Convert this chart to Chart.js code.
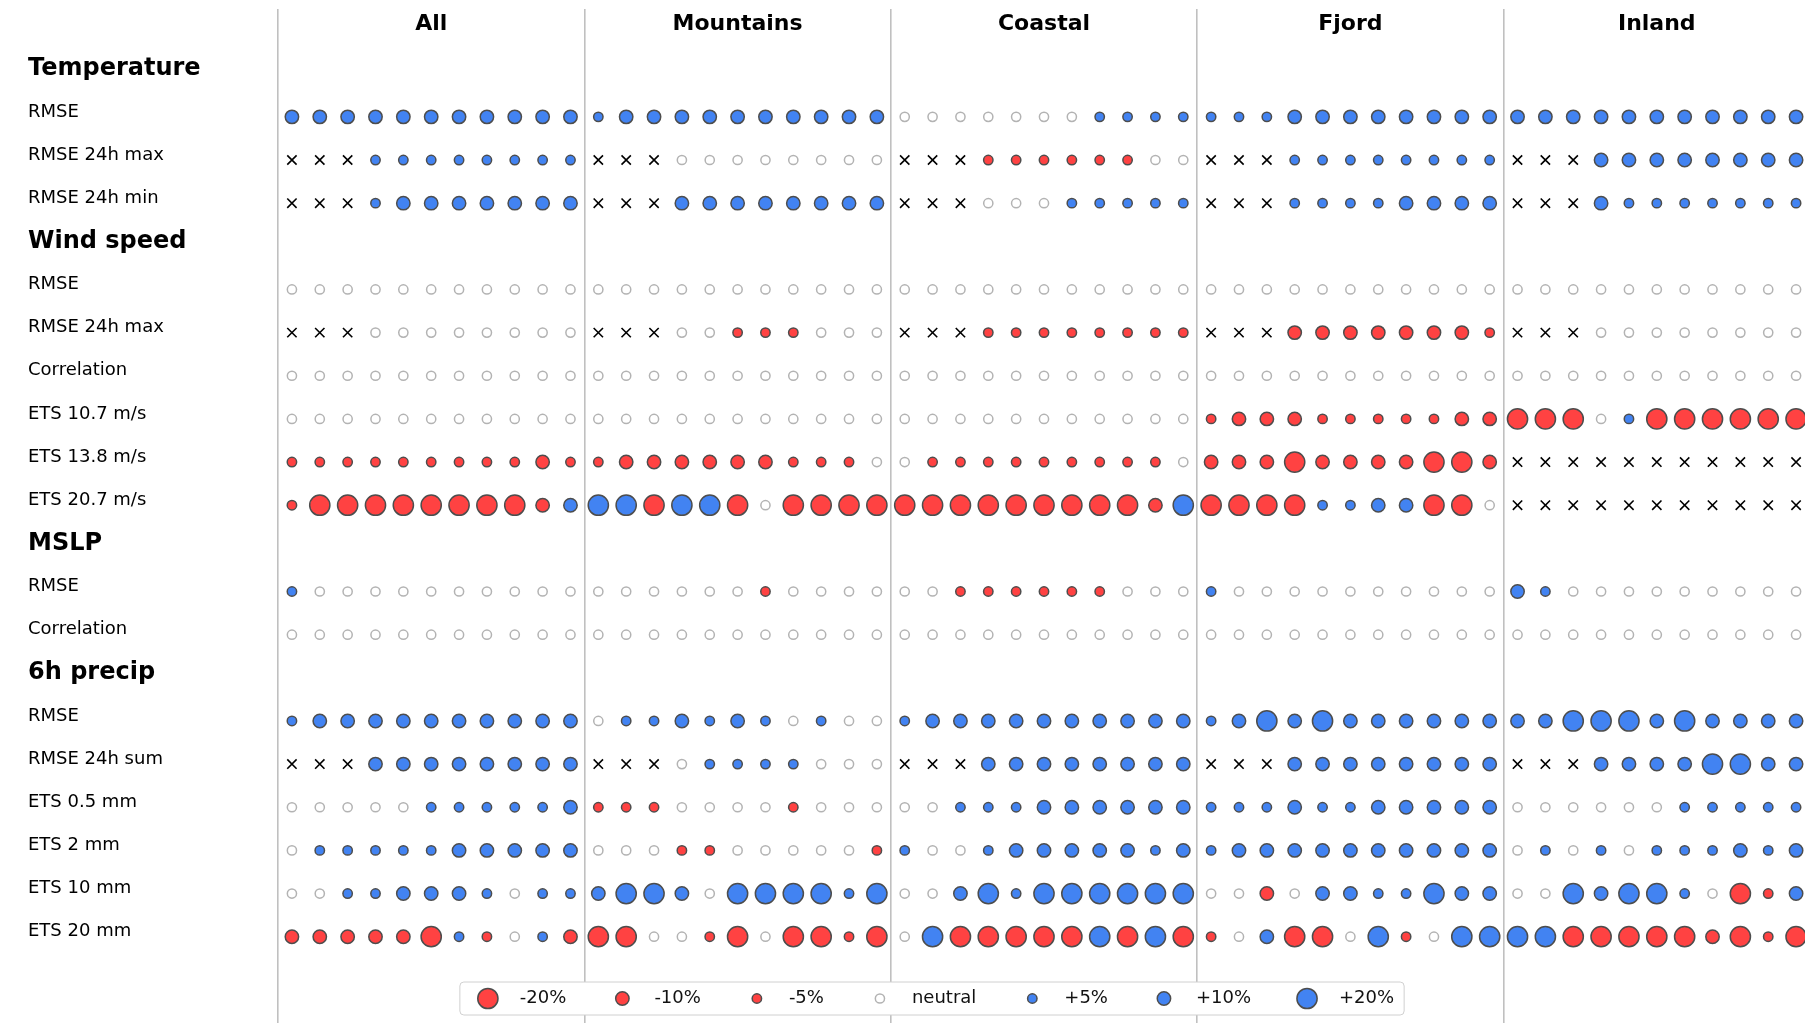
<!DOCTYPE html>
<html>
<head>
<meta charset="utf-8">
<script src="https://cdn.jsdelivr.net/npm/chart.js@4.4.1/dist/chart.umd.min.js"></script>
<style>
  html, body { margin: 0; padding: 0; background: #fff; overflow: hidden; }
  canvas { display: block; }
</style>
</head>
<body>
<canvas id="chart" width="1810" height="1023"></canvas>
<script>
const X = null; // no score for this lead time

const regions = ['All', 'Mountains', 'Coastal', 'Fjord', 'Inland'];
const leadTimes = 11;

const rowLabels = [
  'Temperature', 'RMSE', 'RMSE 24h max', 'RMSE 24h min',
  'Wind speed', 'RMSE', 'RMSE 24h max', 'Correlation', 'ETS 10.7 m/s', 'ETS 13.8 m/s', 'ETS 20.7 m/s',
  'MSLP', 'RMSE', 'Correlation',
  '6h precip', 'RMSE', 'RMSE 24h sum', 'ETS 0.5 mm', 'ETS 2 mm', 'ETS 10 mm', 'ETS 20 mm',
];
const headerLabels = ['Temperature', 'Wind speed', 'MSLP', '6h precip'];

// -3..3 -> -20%, -10%, -5%, neutral, +5%, +10%, +20%
const allScores = [
  [2, 2, 2, 2, 2, 2, 2, 2, 2, 2, 2],
  [X, X, X, 1, 1, 1, 1, 1, 1, 1, 1],
  [X, X, X, 1, 2, 2, 2, 2, 2, 2, 2],
  [0, 0, 0, 0, 0, 0, 0, 0, 0, 0, 0],
  [X, X, X, 0, 0, 0, 0, 0, 0, 0, 0],
  [0, 0, 0, 0, 0, 0, 0, 0, 0, 0, 0],
  [0, 0, 0, 0, 0, 0, 0, 0, 0, 0, 0],
  [-1, -1, -1, -1, -1, -1, -1, -1, -1, -2, -1],
  [-1, -3, -3, -3, -3, -3, -3, -3, -3, -2, 2],
  [1, 0, 0, 0, 0, 0, 0, 0, 0, 0, 0],
  [0, 0, 0, 0, 0, 0, 0, 0, 0, 0, 0],
  [1, 2, 2, 2, 2, 2, 2, 2, 2, 2, 2],
  [X, X, X, 2, 2, 2, 2, 2, 2, 2, 2],
  [0, 0, 0, 0, 0, 1, 1, 1, 1, 1, 2],
  [0, 1, 1, 1, 1, 1, 2, 2, 2, 2, 2],
  [0, 0, 1, 1, 2, 2, 2, 1, 0, 1, 1],
  [-2, -2, -2, -2, -2, -3, 1, -1, 0, 1, -2],
];
const mountainsScores = [
  [1, 2, 2, 2, 2, 2, 2, 2, 2, 2, 2],
  [X, X, X, 0, 0, 0, 0, 0, 0, 0, 0],
  [X, X, X, 2, 2, 2, 2, 2, 2, 2, 2],
  [0, 0, 0, 0, 0, 0, 0, 0, 0, 0, 0],
  [X, X, X, 0, 0, -1, -1, -1, 0, 0, 0],
  [0, 0, 0, 0, 0, 0, 0, 0, 0, 0, 0],
  [0, 0, 0, 0, 0, 0, 0, 0, 0, 0, 0],
  [-1, -2, -2, -2, -2, -2, -2, -1, -1, -1, 0],
  [3, 3, -3, 3, 3, -3, 0, -3, -3, -3, -3],
  [0, 0, 0, 0, 0, 0, -1, 0, 0, 0, 0],
  [0, 0, 0, 0, 0, 0, 0, 0, 0, 0, 0],
  [0, 1, 1, 2, 1, 2, 1, 0, 1, 0, 0],
  [X, X, X, 0, 1, 1, 1, 1, 0, 0, 0],
  [-1, -1, -1, 0, 0, 0, 0, -1, 0, 0, 0],
  [0, 0, 0, -1, -1, 0, 0, 0, 0, 0, -1],
  [2, 3, 3, 2, 0, 3, 3, 3, 3, 1, 3],
  [-3, -3, 0, 0, -1, -3, 0, -3, -3, -1, -3],
];
const coastalScores = [
  [0, 0, 0, 0, 0, 0, 0, 1, 1, 1, 1],
  [X, X, X, -1, -1, -1, -1, -1, -1, 0, 0],
  [X, X, X, 0, 0, 0, 1, 1, 1, 1, 1],
  [0, 0, 0, 0, 0, 0, 0, 0, 0, 0, 0],
  [X, X, X, -1, -1, -1, -1, -1, -1, -1, -1],
  [0, 0, 0, 0, 0, 0, 0, 0, 0, 0, 0],
  [0, 0, 0, 0, 0, 0, 0, 0, 0, 0, 0],
  [0, -1, -1, -1, -1, -1, -1, -1, -1, -1, 0],
  [-3, -3, -3, -3, -3, -3, -3, -3, -3, -2, 3],
  [0, 0, -1, -1, -1, -1, -1, -1, 0, 0, 0],
  [0, 0, 0, 0, 0, 0, 0, 0, 0, 0, 0],
  [1, 2, 2, 2, 2, 2, 2, 2, 2, 2, 2],
  [X, X, X, 2, 2, 2, 2, 2, 2, 2, 2],
  [0, 0, 1, 1, 1, 2, 2, 2, 2, 2, 2],
  [1, 0, 0, 1, 2, 2, 2, 2, 2, 1, 2],
  [0, 0, 2, 3, 1, 3, 3, 3, 3, 3, 3],
  [0, 3, -3, -3, -3, -3, -3, 3, -3, 3, -3],
];
const fjordScores = [
  [1, 1, 1, 2, 2, 2, 2, 2, 2, 2, 2],
  [X, X, X, 1, 1, 1, 1, 1, 1, 1, 1],
  [X, X, X, 1, 1, 1, 1, 2, 2, 2, 2],
  [0, 0, 0, 0, 0, 0, 0, 0, 0, 0, 0],
  [X, X, X, -2, -2, -2, -2, -2, -2, -2, -1],
  [0, 0, 0, 0, 0, 0, 0, 0, 0, 0, 0],
  [-1, -2, -2, -2, -1, -1, -1, -1, -1, -2, -2],
  [-2, -2, -2, -3, -2, -2, -2, -2, -3, -3, -2],
  [-3, -3, -3, -3, 1, 1, 2, 2, -3, -3, 0],
  [1, 0, 0, 0, 0, 0, 0, 0, 0, 0, 0],
  [0, 0, 0, 0, 0, 0, 0, 0, 0, 0, 0],
  [1, 2, 3, 2, 3, 2, 2, 2, 2, 2, 2],
  [X, X, X, 2, 2, 2, 2, 2, 2, 2, 2],
  [1, 1, 1, 2, 1, 1, 2, 2, 2, 2, 2],
  [1, 2, 2, 2, 2, 2, 2, 2, 2, 2, 2],
  [0, 0, -2, 0, 2, 2, 1, 1, 3, 2, 2],
  [-1, 0, 2, -3, -3, 0, 3, -1, 0, 3, 3],
];
const inlandScores = [
  [2, 2, 2, 2, 2, 2, 2, 2, 2, 2, 2],
  [X, X, X, 2, 2, 2, 2, 2, 2, 2, 2],
  [X, X, X, 2, 1, 1, 1, 1, 1, 1, 1],
  [0, 0, 0, 0, 0, 0, 0, 0, 0, 0, 0],
  [X, X, X, 0, 0, 0, 0, 0, 0, 0, 0],
  [0, 0, 0, 0, 0, 0, 0, 0, 0, 0, 0],
  [-3, -3, -3, 0, 1, -3, -3, -3, -3, -3, -3],
  [X, X, X, X, X, X, X, X, X, X, X],
  [X, X, X, X, X, X, X, X, X, X, X],
  [2, 1, 0, 0, 0, 0, 0, 0, 0, 0, 0],
  [0, 0, 0, 0, 0, 0, 0, 0, 0, 0, 0],
  [2, 2, 3, 3, 3, 2, 3, 2, 2, 2, 2],
  [X, X, X, 2, 2, 2, 2, 3, 3, 2, 2],
  [0, 0, 0, 0, 0, 0, 1, 1, 1, 1, 1],
  [0, 1, 0, 1, 0, 1, 1, 1, 2, 1, 2],
  [0, 0, 3, 2, 3, 3, 1, 0, -3, -1, 2],
  [3, 3, -3, -3, -3, -3, -3, -2, -3, -1, -3],
];
const regionScores = [allScores, mountainsScores, coastalScores, fjordScores, inlandScores];

const legendCodes = [-3, -2, -1, 0, 1, 2, 3];
const legendLabels = ['-20%', '-10%', '-5%', 'neutral', '+5%', '+10%', '+20%'];

const FONT = "'DejaVu Sans', sans-serif";
const RED = '#ff4242';
const BLUE = '#4283f2';
const EDGE = '#4d4d4d';

function markerStyle(code) {
  if (code === X) {
    return { pointStyle: 'crossRot', radius: 6.6, fill: '#000', stroke: '#000', width: 1.6 };
  }
  if (code === 0) {
    return { pointStyle: 'circle', radius: 4.6, fill: 'rgba(0,0,0,0)', stroke: '#b3b3b3', width: 1.5 };
  }
  const radius = [0, 4.7, 6.7, 10.1][Math.abs(code)];
  return { pointStyle: 'circle', radius, fill: code < 0 ? RED : BLUE, stroke: EDGE, width: 1.5 };
}

// y slot for every metric row (header rows get no markers)
const metricSlots = rowLabels.map((l, i) => i).filter((i) => !headerLabels.includes(rowLabels[i]));

const categories = [X, 0, -1, 1, -2, 2, -3, 3];
const datasets = categories.map((cat) => {
  const st = markerStyle(cat);
  const points = [];
  regionScores.forEach((scores, g) => {
    scores.forEach((row, r) => {
      row.forEach((code, c) => {
        if (code === cat) points.push({ x: g * leadTimes + c, y: metricSlots[r] });
      });
    });
  });
  return {
    data: points,
    pointStyle: st.pointStyle,
    pointRadius: st.radius,
    backgroundColor: st.fill,
    borderColor: st.stroke,
    borderWidth: st.width,
  };
});

const regionTitles = {
  id: 'regionTitles',
  afterDatasetsDraw(chart) {
    const { ctx, chartArea, scales } = chart;
    ctx.save();
    ctx.fillStyle = '#000';
    ctx.font = 'bold 22px ' + FONT;
    ctx.textAlign = 'center';
    ctx.textBaseline = 'middle';
    regions.forEach((name, g) => {
      const x = scales.x.getPixelForValue(g * leadTimes + (leadTimes - 1) / 2);
      ctx.fillText(name, x, chartArea.top + 15);
    });
    ctx.restore();
  },
};

const sizeLegend = {
  id: 'sizeLegend',
  afterDraw(chart) {
    const { ctx } = chart;
    const pad = 10, handleW = 36, textPad = 14, colGap = 38;
    ctx.save();
    ctx.font = '18px ' + FONT;
    const widths = legendLabels.map((t) => ctx.measureText(t).width);
    let boxW = pad * 2;
    widths.forEach((w, i) => { boxW += handleW + textPad + w + (i < widths.length - 1 ? colGap : 0); });
    const boxH = 33;
    const left = 932 - boxW / 2;
    const top = 982;
    ctx.beginPath();
    ctx.roundRect(left, top, boxW, boxH, 4);
    ctx.fillStyle = '#fff';
    ctx.fill();
    ctx.strokeStyle = '#d0d0d0';
    ctx.lineWidth = 1;
    ctx.stroke();
    const cy = top + boxH / 2;
    let x = left + pad;
    legendCodes.forEach((code, i) => {
      const st = markerStyle(code);
      ctx.fillStyle = st.fill;
      ctx.strokeStyle = st.stroke;
      ctx.lineWidth = st.width;
      Chart.helpers.drawPoint(ctx, { pointStyle: st.pointStyle, radius: st.radius, rotation: 0, borderWidth: st.width }, x + handleW / 2, cy);
      ctx.fillStyle = '#111';
      ctx.textAlign = 'left';
      ctx.textBaseline = 'middle';
      ctx.fillText(legendLabels[i], x + handleW + textPad, cy);
      x += handleW + textPad + widths[i] + colGap;
    });
    ctx.restore();
  },
};

new Chart(document.getElementById('chart'), {
  type: 'scatter',
  data: { datasets },
  options: {
    responsive: false,
    animation: false,
    events: [],
    layout: { autoPadding: false, padding: { left: 28, top: 9, right: 0, bottom: 0 } },
    plugins: {
      legend: { display: false },
      tooltip: { enabled: false },
    },
    scales: {
      x: {
        type: 'linear',
        min: -0.5,
        max: regions.length * leadTimes - 0.5,
        afterBuildTicks: (scale) => {
          scale.ticks = regions.map((r, g) => ({ value: g * leadTimes - 0.5 }))
            .concat([{ value: regions.length * leadTimes - 0.5 }]);
        },
        afterFit: (scale) => {
          scale.height = 0;
          scale.paddingLeft = 0;
          scale.paddingRight = 0;
        },
        ticks: { display: false },
        grid: { color: '#c0c0c0', lineWidth: 1.6, drawTicks: false },
        border: { display: false },
      },
      y: {
        type: 'linear',
        reverse: true,
        min: -1.5,
        max: 22,
        afterBuildTicks: (scale) => {
          scale.ticks = rowLabels.map((l, i) => ({ value: i }));
        },
        afterFit: (scale) => {
          scale.width = 250;
          scale.paddingTop = 0;
          scale.paddingBottom = 0;
        },
        ticks: {
          autoSkip: false,
          crossAlign: 'far',
          labelOffset: -5,
          color: '#000',
          callback: (value, index) => rowLabels[index],
          font: (ctx) => headerLabels.includes(rowLabels[ctx.index])
            ? { family: FONT, size: 24, weight: 'bold' }
            : { family: FONT, size: 18 },
        },
        grid: { display: false },
        border: { display: false },
      },
    },
  },
  plugins: [regionTitles, sizeLegend],
});
</script>
</body>
</html>
